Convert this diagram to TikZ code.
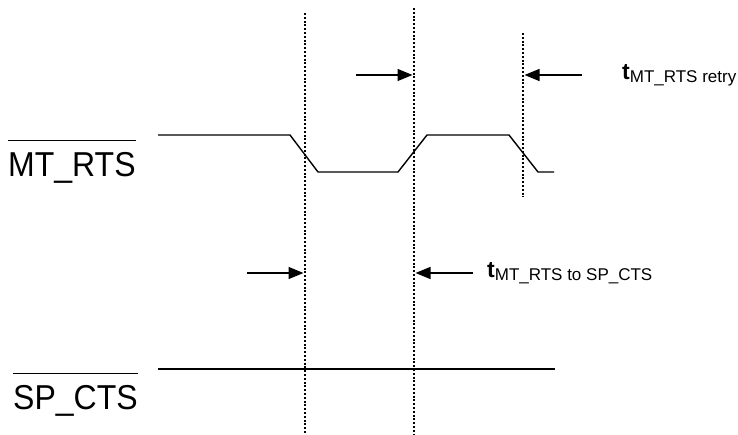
\documentclass[tikz,border=0pt]{standalone}
\usepackage{fontspec}
\setmainfont{Liberation Sans}
\usetikzlibrary{positioning,arrows.meta}

\tikzset{
  wave/.style={line width=1.4pt},
  edge line/.style={line width=1.3pt, dash pattern=on 2pt off 1.8pt},
  dim/.style={line width=1.3pt, -{Triangle[length=15pt,width=12pt]}},
  signame/.style={inner sep=0pt, font=\fontsize{32}{32}\selectfont, anchor=base west, yscale=1.08},
  tlabel/.style={inner sep=0pt, anchor=west}
}
\newcommand{\tname}[1]{{\fontsize{23}{23}\selectfont\bfseries t}\raisebox{-3pt}{\fontsize{17}{17}\selectfont #1}}

\begin{document}
\begin{tikzpicture}[x=1pt,y=-1pt]
\useasboundingbox (0,0) rectangle (738,435);
% signal names
\node[signame] (mtrts) at (8,177) {MT\_RTS};
\node[signame] (spcts) at (13,409) {SP\_CTS};
\draw[line width=1.2pt] ([yshift=12pt]mtrts.north west) -- ([yshift=12pt]mtrts.north east);
\draw[line width=1.2pt] ([yshift=11pt]spcts.north west) -- ([yshift=11pt]spcts.north east);
% edges
\coordinate (e1t) at (305,13);  \coordinate (e1b) at (305,435);
\coordinate (e2t) at (414,8);   \coordinate (e2b) at (414,435);
\coordinate (e3t) at (523,33);  \coordinate (e3b) at (523,197);
\draw[edge line] (e1t) -- (e1b);
\draw[edge line] (e2t) -- (e2b);
\draw[edge line] (e3t) -- (e3b);
% waveforms
\draw[wave] (158,135) -- (290,135) -- (318,172) -- (398,172) -- (427,135)
  -- (509,135) -- (538,172) -- (554,172);
\draw[wave] (158,369) -- (555,369);
% timing arrows
\coordinate (a1) at (356,75);  \coordinate (a2) at (582,75);
\coordinate (b1) at (247,273); \coordinate (b2) at (473,273);
\draw[dim] (a1) -- ([xshift=-1.5pt]a1 -| e2t);
\draw[dim] (a2) -- ([xshift=1.5pt]a2 -| e3t);
\draw[dim] (b1) -- ([xshift=-1.5pt]b1 -| e1t);
\draw[dim] (b2) -- ([xshift=1.5pt]b2 -| e2t);
\node[tlabel, right=40pt of a2] (tretry) {\tname{MT\_RTS retry}};
\node[tlabel, right=14pt of b2] (tcts) {\tname{MT\_RTS to SP\_CTS}};
\end{tikzpicture}
\end{document}
